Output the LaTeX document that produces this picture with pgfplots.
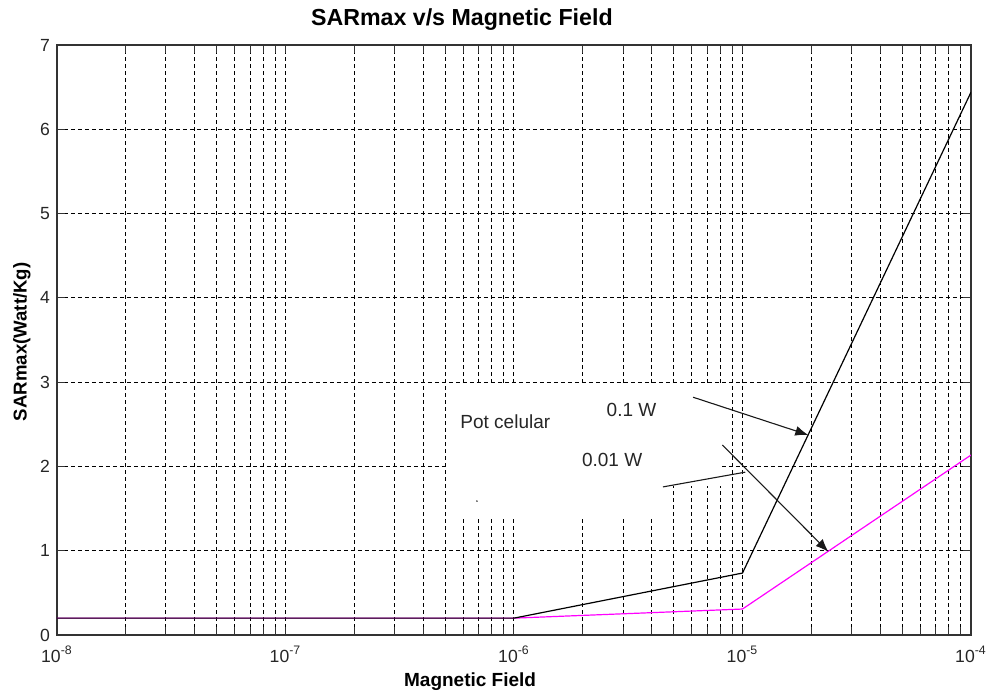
\documentclass[border=0pt]{standalone}
\usepackage{pgfplots}
\pgfplotsset{compat=1.18}
\usepackage{fontspec}
\setmainfont{Liberation Sans}
\usetikzlibrary{arrows.meta}
\definecolor{mag}{RGB}{255,0,255}
\begin{document}
\begin{tikzpicture}
\begin{axis}[
  at={(0,0)}, anchor=south west,
  scale only axis, width=457pt, height=295pt,
  xmode=log, xmin=1e-8, xmax=1e-4, ymin=0, ymax=7,
  xtick={1e-8,1e-7,1e-6,1e-5,1e-4},
  xticklabels={10\textsuperscript{-8},10\textsuperscript{-7},10\textsuperscript{-6},10\textsuperscript{-5},10\textsuperscript{-4}},
  minor xtick={2e-8,3e-8,4e-8,5e-8,6e-8,7e-8,8e-8,9e-8,2e-7,3e-7,4e-7,5e-7,6e-7,7e-7,8e-7,9e-7,2e-6,3e-6,4e-6,5e-6,6e-6,7e-6,8e-6,9e-6,2e-5,3e-5,4e-5,5e-5,6e-5,7e-5,8e-5,9e-5},
  ytick={0,1,2,3,4,5,6,7},
  /pgf/number format/assume math mode=true,
  tick label style={font=\fontsize{8.8}{10}\selectfont, black!85},
  xticklabel style={yshift=-2pt},
  grid=both,
  major grid style={black, line width=0.5pt, dash pattern=on 2pt off 1.5pt},
  minor grid style={black, line width=0.5pt, dash pattern=on 2pt off 1.5pt},
  axis line style={line width=0.75pt, black!80},
  tick align=inside,
  major tick length=4pt, minor tick length=4pt,
  tick style={black!80, line width=0.5pt},
  every axis title shift=0pt,
  title={SARmax v/s Magnetic Field},
  title style={font=\bfseries\fontsize{11.6}{13}\selectfont, at={(axis description cs:0.443,1)}, anchor=center, yshift=12.5pt},
  xlabel={Magnetic Field},
  xlabel style={font=\bfseries\fontsize{9.5}{11}\selectfont, at={(axis description cs:0.452,0)}, anchor=center, yshift=-23.5pt},
  ylabel={SARmax(Watt/Kg)},
  ylabel style={font=\bfseries\fontsize{9.3}{11}\selectfont, at={(axis description cs:0,0.497)}, anchor=center, yshift=17.5pt},
]
% white annotation boxes covering the grid
\fill[white] (rel axis cs:0.427,0.202) rectangle (rel axis cs:0.664,0.425);
\fill[white] (rel axis cs:0.662,0.252) rectangle (rel axis cs:0.728,0.425);

\addplot[mag, line width=0.6pt] coordinates {(1e-8,0.2) (1e-7,0.2) (1e-6,0.2) (1e-5,0.308) (1e-4,2.135)};
\addplot[black, line width=0.6pt] coordinates {(1e-8,0.2) (1e-7,0.2) (1e-6,0.2) (1e-5,0.735) (1e-4,6.44)};

\fill[black] (rel axis cs:0.4595,0.227) circle (0.4pt);
\node[anchor=west, inner sep=0pt, font=\fontsize{9.5}{11}\selectfont, black!85] at (rel axis cs:0.441,0.361) {Pot celular};
\node[anchor=west, inner sep=0pt, font=\fontsize{9.5}{11}\selectfont, black!85] at (rel axis cs:0.601,0.381) {0.1 W};
\node[anchor=west, inner sep=0pt, font=\fontsize{9.5}{11}\selectfont, black!85] at (rel axis cs:0.574,0.297) {0.01 W};
\draw[black!90, line width=0.55pt, -{Latex[length=6.5pt,width=5pt]}] (rel axis cs:0.696,0.403) -- (rel axis cs:0.822,0.339);
\draw[black!90, line width=0.55pt] (rel axis cs:0.663,0.251) -- (rel axis cs:0.753,0.276);
\draw[black!90, line width=0.55pt, -{Latex[length=6.5pt,width=5pt]}] (rel axis cs:0.728,0.322) -- (rel axis cs:0.844,0.141);
\end{axis}
\pgfresetboundingbox
\path (-28.5pt,-28pt) rectangle (465pt,317.5pt);
\end{tikzpicture}
\end{document}
